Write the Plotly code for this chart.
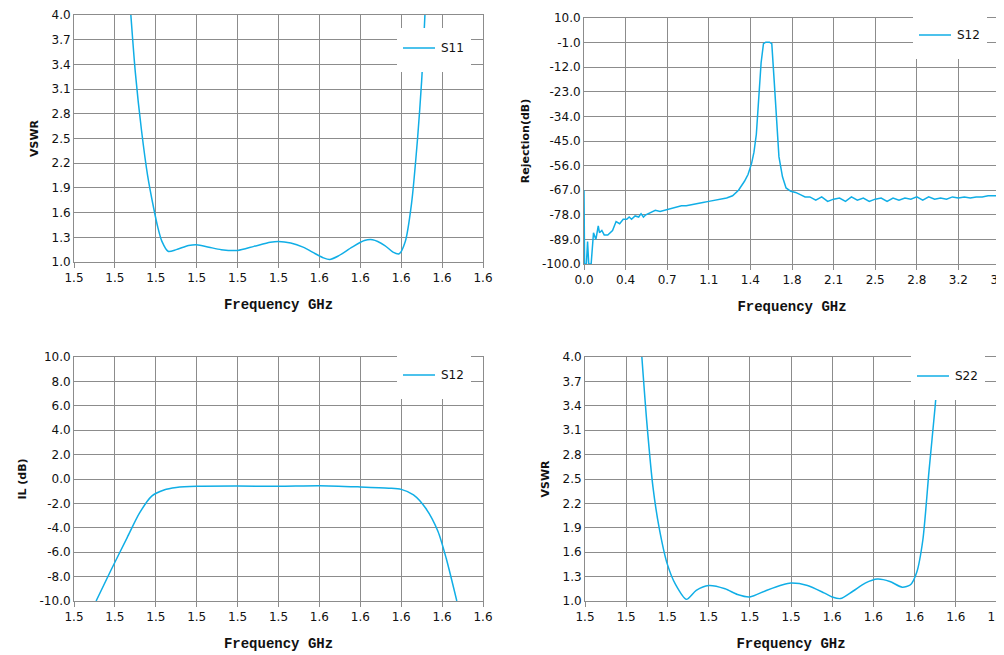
import plotly.graph_objects as go

# tick positions (index units) and labels for the narrow-band plots
band_ticks = [0, 1, 2, 3, 4, 5, 6, 7, 8, 9, 10]
band_ticktext = ["1.5", "1.5", "1.5", "1.5", "1.5", "1.5", "1.6", "1.6", "1.6", "1.6", "1.6"]
rej_ticks = [0.0, 0.35, 0.7, 1.05, 1.4, 1.75, 2.1, 2.45, 2.8, 3.15, 3.5]
rej_ticktext = ["0.0", "0.4", "0.7", "1.1", "1.4", "1.8", "2.1", "2.5", "2.8", "3.2", "3.5"]

s11_x = [1.39, 1.5, 1.65, 1.8, 1.95, 2.05, 2.15, 2.3, 2.5, 2.8, 3.0, 3.3, 3.6, 4.0, 4.4, 4.8, 5.0, 5.3, 5.6, 5.9, 6.1, 6.25, 6.45, 6.8, 7.1, 7.3, 7.6, 7.8, 7.95, 8.1, 8.25, 8.4, 8.5, 8.58]
s11_y = [4.0, 3.3, 2.6, 2.05, 1.65, 1.42, 1.25, 1.13, 1.15, 1.2, 1.21, 1.18, 1.15, 1.14, 1.19, 1.24, 1.25, 1.23, 1.18, 1.1, 1.05, 1.03, 1.07, 1.18, 1.26, 1.27, 1.2, 1.12, 1.1, 1.25, 1.7, 2.5, 3.2, 4.0]

il_x = [0.54, 0.9, 1.3, 1.6, 1.9, 2.2, 2.5, 3.0, 4.0, 5.0, 6.0, 7.0, 7.7, 8.0, 8.3, 8.6, 8.9, 9.1, 9.36]
il_y = [-10.0, -7.5, -4.8, -2.8, -1.4, -0.9, -0.7, -0.6, -0.58, -0.6, -0.55, -0.65, -0.75, -0.85, -1.3, -2.4, -4.3, -6.5, -10.0]

s22_x = [1.38, 1.5, 1.65, 1.8, 2.0, 2.2, 2.46, 2.7, 3.0, 3.4, 3.7, 4.0, 4.4, 4.8, 5.0, 5.4, 5.8, 6.0, 6.2, 6.5, 6.8, 7.1, 7.4, 7.7, 7.9, 8.05, 8.2, 8.35, 8.5, 8.6]
s22_y = [4.0, 3.2, 2.4, 1.9, 1.45, 1.2, 1.02, 1.13, 1.19, 1.15, 1.08, 1.05, 1.13, 1.2, 1.22, 1.19, 1.1, 1.05, 1.03, 1.12, 1.22, 1.27, 1.24, 1.17, 1.2, 1.35, 1.75, 2.6, 3.4, 4.0]

rej_x = [0.0, 0.005, 0.02, 0.03, 0.04, 0.06, 0.08, 0.1, 0.12, 0.13, 0.15, 0.17, 0.2, 0.24, 0.27, 0.3, 0.33, 0.36, 0.38, 0.4, 0.43, 0.46, 0.48, 0.5, 0.52, 0.56, 0.6, 0.64, 0.68, 0.7, 0.74, 0.78, 0.82, 0.86, 0.9, 0.95, 1.0, 1.05, 1.1, 1.15, 1.2, 1.25, 1.3, 1.35, 1.38, 1.41, 1.43, 1.45, 1.47, 1.49, 1.51, 1.53, 1.56, 1.58, 1.6, 1.62, 1.64, 1.67, 1.7, 1.74, 1.78, 1.82, 1.86, 1.9, 1.95, 2.0, 2.05, 2.1, 2.15, 2.2, 2.25, 2.3, 2.35, 2.4, 2.45, 2.5, 2.55, 2.6, 2.65, 2.7, 2.75, 2.8, 2.85, 2.9, 2.95, 3.0, 3.05, 3.1, 3.15, 3.2, 3.25, 3.3, 3.35, 3.4, 3.45, 3.5]
rej_y = [-67, -100, -100, -90, -100, -100, -86, -89, -83, -86, -85, -87, -87, -85, -81, -82, -80, -80, -79, -80, -78.5, -79, -77.5, -79, -78, -77, -76, -76.5, -76, -75.5, -75, -74.5, -74, -74, -73.5, -73, -72.5, -72, -71.5, -71, -70.5, -69.5, -67, -63, -60, -55, -50, -42, -28, -10, -1.5, -0.8, -0.8, -1.5, -18, -38, -52, -61, -66, -67.5, -68, -69, -70, -70, -71.5, -70, -72, -71, -70.5, -72, -70, -71.5, -70.5, -72, -71, -70.5, -72, -70.5, -71.5, -70.5, -71, -70, -71.5, -70, -71, -70.5, -71, -70, -70.5, -70, -70.5, -70, -70, -69.5, -69.5, -69.5]

blue = "#10AEE6"
grid = "#8C8C8C"
tickfont = dict(family="DejaVu Sans", size=12, color="#111")
xtitlefont = dict(family="Courier New, Liberation Mono, monospace", size=14, color="#111")
ytitlefont = dict(family="DejaVu Sans", size=11, color="#111")

fig = go.Figure()
fig.add_trace(go.Scatter(x=s11_x, y=s11_y, mode="lines", name="S11", line=dict(color=blue, width=1.5, shape="spline", smoothing=0.7), xaxis="x", yaxis="y", showlegend=False))
fig.add_trace(go.Scatter(x=rej_x, y=rej_y, mode="lines", name="S12", line=dict(color=blue, width=1.5), xaxis="x2", yaxis="y2", showlegend=False))
fig.add_trace(go.Scatter(x=il_x, y=il_y, mode="lines", name="S12", line=dict(color=blue, width=1.5, shape="spline", smoothing=0.7), xaxis="x3", yaxis="y3", showlegend=False))
fig.add_trace(go.Scatter(x=s22_x, y=s22_y, mode="lines", name="S22", line=dict(color=blue, width=1.5, shape="spline", smoothing=0.7), xaxis="x4", yaxis="y4", showlegend=False))

W, H = 1004, 655
def dx(p): return p / W
def dy(p): return 1 - p / H

panels = [
    ("x", "y", (66, 475), (7, 254), "VSWR", [1.0 + 0.3 * i for i in range(11)], "%.1f", (1.0, 4.0)),
    ("x2", "y2", (576, 992), (10, 256), "Rejection(dB)", [-100 + 11 * i for i in range(11)], "%.1f", (-100, 10)),
    ("x3", "y3", (66, 475), (349, 593), "IL (dB)", [-10 + 2 * i for i in range(11)], "%.1f", (-10, 10)),
    ("x4", "y4", (577, 989), (349, 593), "VSWR", [1.0 + 0.3 * i for i in range(11)], "%.1f", (1.0, 4.0)),
]
layout = {}
for xa, ya, (x0, x1), (y0, y1), ytitle, yt, fmt, yr in panels:
    xkey = "xaxis" if xa == "x" else "xaxis" + xa[1:]
    ykey = "yaxis" if ya == "y" else "yaxis" + ya[1:]
    if xa == "x2":
        xax = dict(range=[0, 3.5], tickvals=rej_ticks, ticktext=rej_ticktext)
    else:
        xax = dict(range=[0, 10], tickvals=band_ticks, ticktext=band_ticktext)
    xax.update(domain=[dx(x0), dx(x1)], anchor=ya, showgrid=True, gridcolor=grid, gridwidth=1,
               showline=True, linecolor=grid, mirror=True, ticks="outside", ticklen=5, tickcolor=grid,
               tickfont=tickfont, zeroline=False, automargin=False,
               title=dict(text="<b>Frequency GHz</b>", font=xtitlefont, standoff=14))
    yax = dict(domain=[dy(y1), dy(y0)], anchor=xa, range=list(yr), tickvals=yt, ticktext=[fmt % v for v in yt],
               showgrid=True, gridcolor=grid, showline=True, linecolor=grid, mirror=True,
               tickfont=tickfont, zeroline=False, automargin=False,
               title=dict(text="<b>%s</b>" % ytitle, font=ytitlefont, standoff=10))
    layout[xkey] = xax
    layout[ykey] = yax

fig.update_layout(**layout)

legends = [(395, 28, "S11"), (911, 15, "S12"), (395, 355, "S12"), (909, 356, "S22")]
for lx, ly, txt in legends:
    fig.add_shape(type="rect", xref="paper", yref="paper", x0=dx(lx - 6), x1=dx(lx + 68), y0=dy(ly + 36), y1=dy(ly - 8),
                  fillcolor="white", line=dict(width=0))
    fig.add_shape(type="line", xref="paper", yref="paper", x0=dx(lx), x1=dx(lx + 32), y0=dy(ly + 12), y1=dy(ly + 12),
                  line=dict(color=blue, width=1.5))
    fig.add_annotation(xref="paper", yref="paper", x=dx(lx + 36), y=dy(ly + 12), text=txt, showarrow=False,
                       xanchor="left", yanchor="middle", font=dict(family="DejaVu Sans", size=12, color="#111"))

fig.update_layout(width=W, height=H, margin=dict(l=0, r=0, t=0, b=0), plot_bgcolor="white", paper_bgcolor="white")
fig.write_html("out.html")
